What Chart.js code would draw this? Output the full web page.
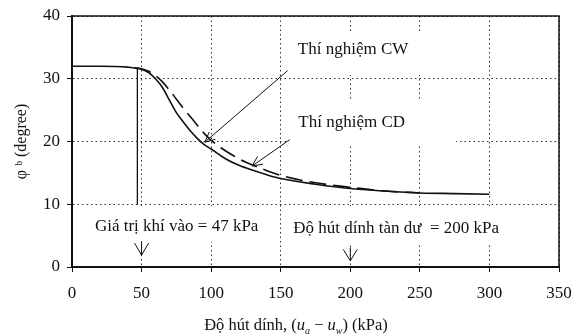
<!DOCTYPE html>
<html>
<head>
<meta charset="utf-8">
<script src="https://cdn.jsdelivr.net/npm/chart.js@4.4.1/dist/chart.umd.min.js"></script>
<style>
  html, body { margin: 0; padding: 0; background: #fff; }
  #wrap { width: 579px; height: 336px; }
</style>
</head>
<body>
<div id="wrap"><canvas id="phiChart"></canvas></div>
<script>
// Góc phi^b theo độ hút dính (kPa) - thí nghiệm CW (nét liền) và CD (nét đứt)
const cwSuction = [0, 20, 40, 50, 55, 60, 65, 70, 75, 80, 85, 90, 95, 100, 110, 120, 130, 140, 150, 175, 200, 225, 250, 275, 300];
const cwPhi = [32.0, 32.0, 31.85, 31.5, 31.0, 30.0, 28.6, 26.6, 24.6, 23.1, 21.7, 20.5, 19.5, 18.8, 17.3, 16.2, 15.4, 14.7, 14.1, 13.2, 12.5, 12.1, 11.8, 11.7, 11.6];
const cdSuction = [45, 50, 55, 60, 65, 70, 80, 86, 95, 100, 107, 117, 125, 135, 150, 170, 200, 225, 250];
const cdPhi = [31.75, 31.6, 31.2, 30.5, 29.5, 28.2, 25.3, 23.7, 21.3, 20.2, 19.0, 17.6, 16.7, 15.8, 14.6, 13.6, 12.7, 12.1, 11.8];
// giá trị khí vào: đường đứng tại 47 kPa
const aevSuction = [47, 47];
const aevPhi = [31.6, 10];

const xTicks = [0, 50, 100, 150, 200, 250, 300, 350];
const yTicks = [0, 10, 20, 30, 40];

const serif = '"Liberation Serif", "DejaVu Serif", serif';
const ink = '#111';

// chú thích chữ, khung trắng che lưới (đơn vị dữ liệu: x0, x1, yTop, yBottom)
const notes = [
    { text: 'Thí nghiệm CW', at: [202, 34.6], box: [156, 276, 37.2, 30.6] },
    { text: 'Thí nghiệm CD', at: [201, 23.1], box: [156, 276, 26.6, 19.5] },
    { text: 'Giá trị khí vào = 47 kPa', at: [75.2, 6.5], box: [13, 138, 9.7, 4.0] },
    { text: 'Độ hút dính tàn dư  = 200 kPa', at: [233, 6.2], box: [156, 312, 9.7, 3.6] }
];
const pointers = [
    { from: [155, 31.3], to: [95.5, 19.9] },
    { from: [156.5, 20.3], to: [129.5, 16.1] }
];
const drops = [
    { x: 50, top: 3.8, tip: 1.9 },
    { x: 200, top: 2.8, tip: 1.0 }
];

function toPoints(xs, ys) {
    return xs.map((x, i) => ({ x: x, y: ys[i] }));
}

// bỏ phần lề do nhãn tick thêm vào, để khung vẽ giữ đúng kích thước
function fixAxis(size, prop) {
    return s => {
        s[prop] = size;
        s.paddingLeft = 0;
        s.paddingRight = 0;
        s.paddingTop = 0;
        s.paddingBottom = 0;
    };
}

const annotate = {
    id: 'annotate',
    beforeDatasetsDraw(chart) {
        const { ctx, scales: { x, y } } = chart;
        ctx.save();
        ctx.font = '17px ' + serif;
        ctx.textAlign = 'center';
        ctx.textBaseline = 'middle';
        notes.forEach(n => {
            const bx0 = x.getPixelForValue(n.box[0]);
            const bx1 = x.getPixelForValue(n.box[1]);
            const by0 = y.getPixelForValue(n.box[2]);
            const by1 = y.getPixelForValue(n.box[3]);
            ctx.fillStyle = '#fff';
            ctx.fillRect(bx0, by0, bx1 - bx0, by1 - by0);
            ctx.fillStyle = ink;
            ctx.fillText(n.text, x.getPixelForValue(n.at[0]), y.getPixelForValue(n.at[1]));
        });
        ctx.restore();
    },
    afterDatasetsDraw(chart) {
        const { ctx, chartArea: a, scales: { x, y } } = chart;
        ctx.save();
        ctx.strokeStyle = ink;
        ctx.lineWidth = 1;

        // mũi tên chỉ vào đường cong
        pointers.forEach(p => {
            const x0 = x.getPixelForValue(p.from[0]), y0 = y.getPixelForValue(p.from[1]);
            const x1 = x.getPixelForValue(p.to[0]), y1 = y.getPixelForValue(p.to[1]);
            const ang = Math.atan2(y1 - y0, x1 - x0);
            ctx.beginPath();
            ctx.moveTo(x0, y0);
            ctx.lineTo(x1, y1);
            [-0.45, 0.45].forEach(d => {
                ctx.moveTo(x1, y1);
                ctx.lineTo(x1 - 11 * Math.cos(ang + d), y1 - 11 * Math.sin(ang + d));
            });
            ctx.stroke();
        });

        // mũi tên chữ V hướng xuống trục hoành
        drops.forEach(d => {
            const px = x.getPixelForValue(d.x);
            const top = y.getPixelForValue(d.top);
            const tip = y.getPixelForValue(d.tip);
            ctx.beginPath();
            ctx.moveTo(px - 7, top);
            ctx.lineTo(px, tip);
            ctx.lineTo(px + 7, top);
            ctx.moveTo(px, top - 2);
            ctx.lineTo(px, tip);
            ctx.stroke();
        });

        // khung trên và phải
        ctx.lineWidth = 1.5;
        ctx.beginPath();
        ctx.moveTo(a.left, a.top);
        ctx.lineTo(a.right, a.top);
        ctx.lineTo(a.right, a.bottom);
        ctx.stroke();

        // tên trục hoành với chỉ số dưới
        const parts = [
            { t: 'Độ hút dính, (', f: '16.5px ' + serif, dy: 0 },
            { t: 'u', f: 'italic 16.5px ' + serif, dy: 0 },
            { t: 'a', f: 'italic 10px ' + serif, dy: 4 },
            { t: ' − ', f: '16.5px ' + serif, dy: 0 },
            { t: 'u', f: 'italic 16.5px ' + serif, dy: 0 },
            { t: 'w', f: 'italic 10px ' + serif, dy: 4 },
            { t: ') (kPa)', f: '16.5px ' + serif, dy: 0 }
        ];
        let total = 0;
        parts.forEach(p => { ctx.font = p.f; p.w = ctx.measureText(p.t).width; total += p.w; });
        let cx = x.getPixelForValue(161) - total / 2;
        const base = 330;
        ctx.fillStyle = ink;
        ctx.textAlign = 'left';
        ctx.textBaseline = 'alphabetic';
        parts.forEach(p => {
            ctx.font = p.f;
            ctx.fillText(p.t, cx, base + p.dy);
            cx += p.w;
        });
        ctx.restore();
    }
};

new Chart(document.getElementById('phiChart'), {
    type: 'line',
    data: {
        datasets: [
            {
                label: 'Thí nghiệm CW',
                data: toPoints(cwSuction, cwPhi),
                borderColor: ink,
                borderWidth: 1.6,
                pointRadius: 0,
                cubicInterpolationMode: 'monotone'
            },
            {
                label: 'Thí nghiệm CD',
                data: toPoints(cdSuction, cdPhi),
                borderColor: ink,
                borderWidth: 1.6,
                borderDash: [17, 7],
                pointRadius: 0,
                cubicInterpolationMode: 'monotone'
            },
            {
                label: 'AEV',
                data: toPoints(aevSuction, aevPhi),
                borderColor: ink,
                borderWidth: 0.9,
                pointRadius: 0
            }
        ]
    },
    options: {
        responsive: true,
        maintainAspectRatio: false,
        animation: false,
        layout: { padding: { top: 16, right: 20, left: 0, bottom: 0 } },
        plugins: {
            legend: { display: false },
            tooltip: { enabled: false }
        },
        scales: {
            x: {
                type: 'linear',
                min: xTicks[0],
                max: xTicks[xTicks.length - 1],
                afterBuildTicks: s => { s.ticks = xTicks.map(v => ({ value: v })); },
                afterFit: fixAxis(69, 'height'),
                grid: { color: '#333', lineWidth: 1, tickColor: ink, tickLength: 5 },
                border: { color: ink, width: 2, dash: [1.5, 3] },
                ticks: { color: ink, padding: 11, font: { family: serif, size: 17 }, maxRotation: 0 }
            },
            y: {
                type: 'linear',
                min: yTicks[0],
                max: yTicks[yTicks.length - 1],
                afterBuildTicks: s => { s.ticks = yTicks.map(v => ({ value: v })); },
                afterFit: fixAxis(72, 'width'),
                grid: { color: '#333', lineWidth: 1, tickColor: ink, tickLength: 5 },
                border: { color: ink, width: 2, dash: [1.5, 3] },
                ticks: { color: ink, padding: 7, font: { family: serif, size: 17 } },
                title: {
                    display: true,
                    text: 'φ ᵇ (degree)',
                    color: ink,
                    font: { family: serif, size: 16 },
                    padding: { top: 12, bottom: 0 }
                }
            }
        }
    },
    plugins: [annotate]
});
</script>
</body>
</html>
